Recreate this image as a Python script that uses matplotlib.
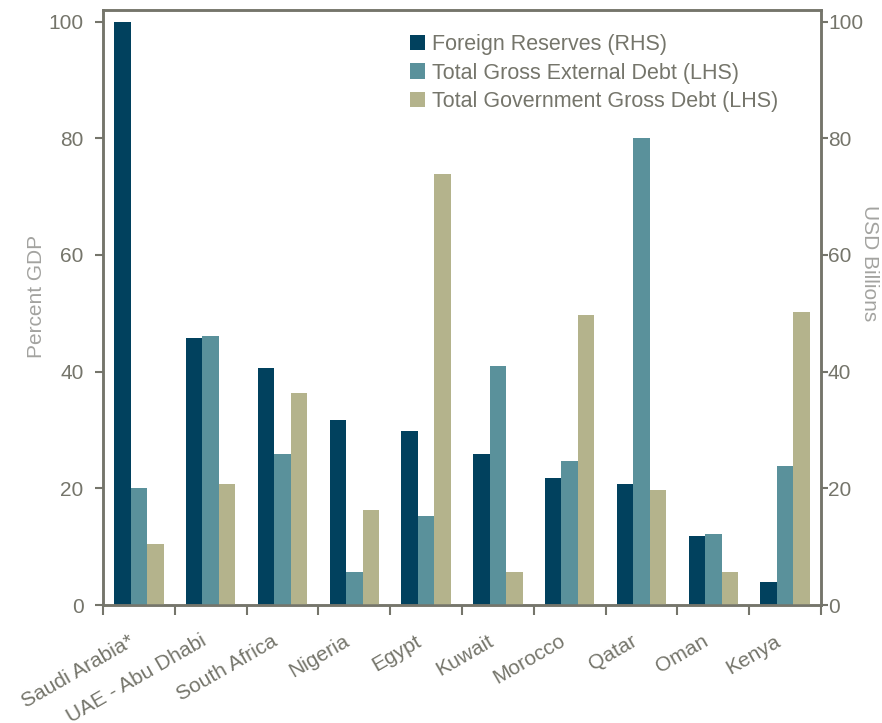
import numpy as np
import matplotlib.pyplot as plt
import matplotlib.transforms as mtransforms
from matplotlib.ticker import FixedLocator, NullFormatter

plt.rcParams['font.family'] = ['Liberation Sans', 'DejaVu Sans']

# Data
countries = ['Saudi Arabia*', 'UAE - Abu Dhabi', 'South Africa', 'Nigeria', 'Egypt',
             'Kuwait', 'Morocco', 'Qatar', 'Oman', 'Kenya']
foreign_reserves = [100, 45.8, 40.7, 31.7, 29.8, 25.9, 21.8, 20.8, 11.9, 3.9]   # RHS, USD bn
external_debt = [20.1, 46.1, 25.9, 5.7, 15.3, 41.0, 24.6, 80.1, 12.2, 23.8]      # LHS, % GDP
government_debt = [10.5, 20.8, 36.3, 16.3, 73.8, 5.7, 49.7, 19.7, 5.7, 50.3]     # LHS, % GDP

c_res = '#01415e'
c_ext = '#5a919b'
c_gov = '#b4b38c'
grey = '#75756b'
light = '#a3a3a0'

fig = plt.figure(figsize=(8.82, 7.23), dpi=100)
ax = fig.add_axes([0.1168, 0.1632, 0.814, 0.823])
ax2 = ax.twinx()
ax.set_zorder(ax2.get_zorder() + 1)
ax.patch.set_visible(False)
ax2.set_facecolor('#ecf0ef')

x = np.arange(len(countries))
w = 0.23
b1 = ax2.bar(x - w, foreign_reserves, w, color=c_res, label='Foreign Reserves (RHS)')
b2 = ax.bar(x, external_debt, w, color=c_ext, label='Total Gross External Debt (LHS)')
b3 = ax.bar(x + w, government_debt, w, color=c_gov, label='Total Government Gross Debt (LHS)')

for a in (ax, ax2):
    a.set_ylim(0, 102)
    a.set_xlim(-0.5, len(countries) - 0.5)
    a.set_yticks([0, 20, 40, 60, 80, 100])
    for s in a.spines.values():
        s.set_color(grey)
        s.set_linewidth(1.8)
    a.tick_params(axis='y', colors=grey, labelsize=15, length=6, width=1.5,
                  direction='out', pad=8)

ax2.tick_params(axis='y', length=5, pad=0)
ax2.set_yticklabels(['0', '20', '40', '60', '80', '100'])

ax.set_xticks(x)
ax.set_xticklabels(countries, rotation=30, ha='right', va='top', rotation_mode='anchor',
                   fontsize=15, color=grey)
ax.tick_params(axis='x', which='major', length=0, pad=19)
# labels sit a bit left of the group centre
shift = mtransforms.ScaledTranslation(-11 / 100, 0, fig.dpi_scale_trans)
for lbl in ax.get_xticklabels():
    lbl.set_transform(lbl.get_transform() + shift)
ax.xaxis.set_minor_locator(FixedLocator(np.arange(-0.5, len(countries), 1.0)))
ax.xaxis.set_minor_formatter(NullFormatter())
ax.tick_params(axis='x', which='minor', length=7, width=1.5, color=grey, direction='out')

ax.set_ylabel('Percent GDP', color=light, fontsize=15)
ax.yaxis.label.set_va('center')
ax.yaxis.set_label_coords(-0.092, 0.518)
ax2.set_ylabel('USD Billions', color=light, fontsize=15, rotation=270)
ax2.yaxis.label.set_va('center')
ax2.yaxis.set_label_coords(1.068, 0.575)

leg = ax.legend([b1, b2, b3], [b1.get_label(), b2.get_label(), b3.get_label()],
                loc='upper left', bbox_to_anchor=(0.428, 0.96), frameon=False,
                fontsize=15.5, handlelength=0.7, handleheight=0.7,
                handletextpad=0.3, labelspacing=0.36, borderaxespad=0, borderpad=0)
for t in leg.get_texts():
    t.set_color(grey)

fig.savefig('out.png', dpi=100)
